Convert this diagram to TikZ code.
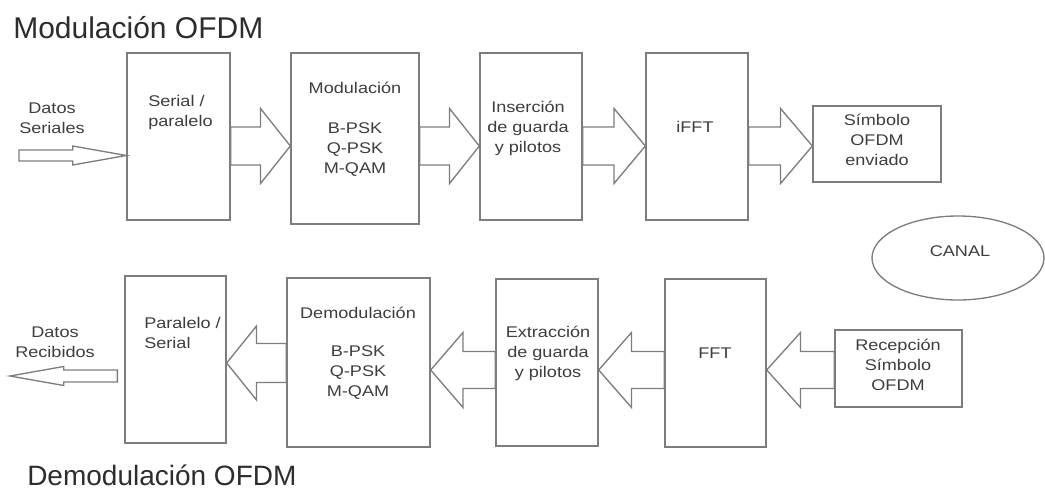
\documentclass[tikz,border=0pt]{standalone}
\usepackage{fontspec}
\setmainfont{Liberation Sans}
\newfontfamily\bodyfont[FakeStretch=1.17]{Liberation Sans}
\usetikzlibrary{calc,fit,shapes.geometric}
\definecolor{linegray}{RGB}{125,125,125}
\definecolor{textgray}{RGB}{62,62,62}
\definecolor{titlegray}{RGB}{45,45,45}

% Hollow block arrow: #1 base point, #2 tip point,
% #3 half shaft width, #4 half head width (head takes the second half)
\newcommand{\blockarrow}[4]{%
  \coordinate (ba-s) at (#1);
  \coordinate (ba-t) at (#2);
  \coordinate (ba-m) at ($(ba-s)!0.5!(ba-t)$);
  \draw[conn] ($(ba-s)+(0,#3)$) -- ($(ba-m)+(0,#3)$) -- ($(ba-m)+(0,#4)$)
    -- (ba-t) -- ($(ba-m)+(0,-#4)$) -- ($(ba-m)+(0,-#3)$)
    -- ($(ba-s)+(0,-#3)$) -- cycle;}

\begin{document}
\begin{tikzpicture}[x=0.75pt,y=-0.75pt,
  box/.style={draw=linegray, line width=1pt, inner sep=0pt, fill=white},
  conn/.style={draw=linegray, line width=1pt, line join=miter, fill=white},
  txt/.style={text=textgray, inner sep=0pt, align=center,
    font={\bodyfont\fontsize{11.6pt}{15pt}\selectfont}},
  ttl/.style={text=titlegray, inner sep=0pt, anchor=base west}]
\useasboundingbox (0,0) rectangle (1045,489);

% titles
\node[ttl, font={\fontsize{22.5pt}{26pt}\selectfont}] (tmod) at (13,38) {Modulación OFDM};
\node[ttl, font={\fontsize{21pt}{25pt}\selectfont}] (tdem) at (27,485) {Demodulación OFDM};

% transmitter chain
\node[box, fit={(127,53) (230,220)}] (b1) {};
\node[box, fit={(291,53) (419,224)}] (b2) {};
\node[box, fit={(480,53) (582,220)}] (b3) {};
\node[box, fit={(646,53) (748,220)}] (b4) {};
\node[box, fit={(813,106) (941,182)}] (b5) {};

\node[txt] (din) at (52,118) {Datos\\Seriales};
\node[txt, align=left, anchor=west] (b1t) at (148,112) {Serial /\\paralelo};
\node[txt] (b2h) at (355,88) {Modulación};
\node[txt] (b2l) at (355,150) {B-PSK\\Q-PSK\\M-QAM};
\node[txt] (b3t) at (528,128) {Inserción\\de guarda\\y pilotos};
\node[txt] (b4t) at (695,127) {iFFT};
\node[txt] (b5t) at (877,140) {Símbolo\\OFDM\\enviado};

% channel
\node[draw=linegray, line width=1pt, ellipse, inner sep=0pt,
  minimum width=129pt, minimum height=63pt] (canal) at (958,258) {};
\node[txt] (canalt) at (960,251) {CANAL};

% receiver chain
\node[box, fit={(125,276) (226,443)}] (c1) {};
\node[box, fit={(287,278) (430,447)}] (c2) {};
\node[box, fit={(496,279) (598,446)}] (c3) {};
\node[box, fit={(665,279) (766,447)}] (c4) {};
\node[box, fit={(835,330) (962,407)}] (c5) {};

\node[txt] (dout) at (55,342) {Datos\\Recibidos};
\node[txt, align=left, anchor=west] (c1t) at (144,333) {Paralelo /\\Serial};
\node[txt] (c2h) at (358,313) {Demodulación};
\node[txt] (c2l) at (358,373) {B-PSK\\Q-PSK\\M-QAM};
\node[txt] (c3t) at (548,353) {Extracción\\de guarda\\y pilotos};
\node[txt] (c4t) at (715,353) {FFT};
\node[txt] (c5t) at (898,365) {Recepción\\Símbolo\\OFDM};

% arrow rows
\coordinate (rowA) at (0,146);
\coordinate (rowB) at (0,370);
\coordinate (rowC) at (0,363);
\coordinate (inS) at (19,155.5);
\coordinate (outR) at (0,376);
\coordinate (outB) at ($(c1.west |- outR)+(-7,0)$);
\coordinate (outT) at (10,376);

% transmitter arrows
\blockarrow{inS}{b1.west |- inS}{5.5}{9.5}
\blockarrow{b1.east |- rowA}{b2.west |- rowA}{19}{37.5}
\blockarrow{b2.east |- rowA}{b3.west |- rowA}{19}{37.5}
\blockarrow{b3.east |- rowA}{b4.west |- rowA}{19}{37.5}
\blockarrow{b4.east |- rowA}{b5.west |- rowA}{19}{37.5}

% receiver arrows
\blockarrow{c5.west |- rowB}{c4.east |- rowB}{18.5}{37.5}
\blockarrow{c4.west |- rowB}{c3.east |- rowB}{18.5}{37.5}
\blockarrow{c3.west |- rowB}{c2.east |- rowB}{18.5}{37.5}
\blockarrow{c2.west |- rowC}{c1.east |- rowC}{19.5}{37}
\blockarrow{outB}{outT}{6}{9.5}
\end{tikzpicture}
\end{document}
